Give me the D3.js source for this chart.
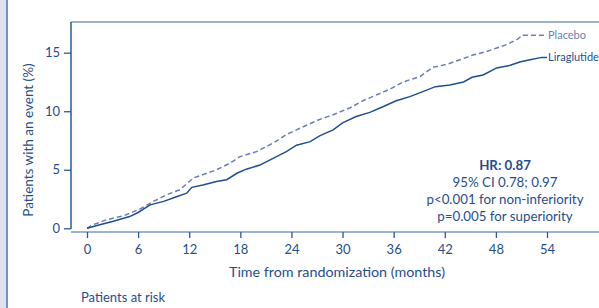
<!DOCTYPE html>
<html>
<head>
<meta charset="utf-8">
<script src="https://cdn.jsdelivr.net/npm/d3@7"></script>
<style>
  body { margin: 0; background: #fff; }
  svg text { font-family: Lato, "Noto Sans", sans-serif; fill: #1f4e8c; }
</style>
</head>
<body>
<div id="chart"></div>
<script>
const width = 599
const height = 308

// Kaplan-Meier curves (months, % with event)
const liraMonths = [0, 1.5, 3.1, 5.0, 6.0, 7.4, 9.0, 10.5, 11.7, 12.3, 13.6, 15.2, 16.4, 17.6, 18.7, 20.3, 21.9, 23.4, 24.6, 26.2, 27.3, 28.9, 30.0, 31.6, 33.2, 34.8, 36.3, 37.9, 39.5, 40.9, 42.6, 44.2, 45.2, 46.5, 48.1, 49.6, 50.8, 52.0, 53.4, 54.0]
const liraValues = [0, 0.3, 0.6, 1.0, 1.35, 2.0, 2.3, 2.7, 3.0, 3.5, 3.7, 4.0, 4.15, 4.7, 5.05, 5.4, 6.0, 6.55, 7.1, 7.4, 7.9, 8.4, 9.0, 9.55, 9.9, 10.4, 10.9, 11.25, 11.7, 12.1, 12.25, 12.5, 12.9, 13.1, 13.7, 13.9, 14.2, 14.4, 14.6, 14.6]
const placeboMonths = [0, 0.7, 2.3, 4.3, 6.2, 7.8, 9.35, 10.9, 12.5, 14.05, 15.2, 16.8, 17.9, 19.9, 21.9, 23.4, 25.0, 27.3, 28.9, 30.9, 32.4, 34.0, 35.6, 37.1, 39.1, 40.6, 42.2, 43.8, 45.3, 46.9, 48.1, 49.3, 50.4, 51.2, 54.0]
const placeboValues = [0, 0.3, 0.73, 1.07, 1.64, 2.3, 2.86, 3.3, 4.3, 4.7, 5.0, 5.57, 6.1, 6.55, 7.3, 8.0, 8.55, 9.3, 9.7, 10.3, 10.9, 11.4, 11.9, 12.5, 12.97, 13.75, 14.0, 14.4, 14.8, 15.1, 15.4, 15.7, 16.1, 16.5, 16.5]

const xTicks = [0, 6, 12, 18, 24, 30, 36, 42, 48, 54]
const yTicks = [0, 5, 10, 15]
const statLines = ["HR: 0.87", "95% CI 0.78; 0.97", "p<0.001 for non-inferiority", "p=0.005 for superiority"]

const dark = "#1d4f91"
const light = "#6a7db8"

let svg = d3.select("#chart")
            .append("svg")
            .attr("width", width)
            .attr("height", height)

// left page strip
svg.append("rect").attr("x", 0).attr("y", 0).attr("width", 6).attr("height", height).attr("fill", "#dde2ee")
svg.append("line").attr("x1", 7).attr("x2", 7).attr("y1", 0).attr("y2", height)
   .attr("stroke", "#4a6fa5").attr("stroke-width", 1.5)

let x = d3.scaleLinear().domain([0, 54]).range([87, 547])
let y = d3.scaleLinear().domain([0, 15]).range([228.3, 52.7])

// frame lines
svg.append("line").attr("x1", 71).attr("x2", width).attr("y1", 22).attr("y2", 22)
   .attr("stroke", "#7d9ac6").attr("stroke-width", 1.5)
svg.append("line").attr("x1", 71).attr("x2", 71).attr("y1", 22).attr("y2", 229)
   .attr("stroke", "#2a5a96").attr("stroke-width", 1.5)
svg.append("line").attr("x1", 71).attr("x2", width).attr("y1", 232).attr("y2", 232)
   .attr("stroke", "#7d9ac6").attr("stroke-width", 1.5)

let yAxis = svg.append("g")
   .attr("transform", "translate(71,0)")
   .call(d3.axisLeft(y).tickValues(yTicks).tickSize(7).tickPadding(4))
yAxis.select(".domain").remove()
yAxis.selectAll("line").attr("stroke", "#2a5a96").attr("stroke-width", 1.3)
yAxis.selectAll("text").attr("font-size", 13).style("font-family", "Lato, sans-serif").attr("fill", "#1f4e8c")

let xAxis = svg.append("g")
   .attr("transform", "translate(0,232)")
   .call(d3.axisBottom(x).tickValues(xTicks).tickSize(6).tickPadding(7))
xAxis.select(".domain").remove()
xAxis.selectAll("line").attr("stroke", "#2a5a96").attr("stroke-width", 1.3)
xAxis.selectAll("text").attr("font-size", 13).style("font-family", "Lato, sans-serif").attr("fill", "#1f4e8c")

// axis titles
svg.append("text").attr("x", 337).attr("y", 277).attr("text-anchor", "middle").attr("font-size", 14.3)
   .text("Time from randomization (months)")
svg.append("text").attr("transform", "translate(33,140) rotate(-90)").attr("text-anchor", "middle").attr("font-size", 13.5)
   .text("Patients with an event (%)")
svg.append("text").attr("x", 81).attr("y", 302).attr("font-size", 13).text("Patients at risk")

// curves
let line = d3.line()
   .x(d => x(d[0]))
   .y(d => y(d[1]))

svg.append("path")
   .datum(d3.zip(placeboMonths, placeboValues))
   .attr("d", line)
   .attr("fill", "none")
   .attr("stroke", light)
   .attr("stroke-width", 1.5)
   .attr("stroke-dasharray", "5,3")

svg.append("path")
   .datum(d3.zip(liraMonths, liraValues))
   .attr("d", line)
   .attr("fill", "none")
   .attr("stroke", dark)
   .attr("stroke-width", 1.5)

svg.append("text").attr("x", x(54) + 1).attr("y", y(placeboValues[placeboValues.length - 1]) + 4)
   .attr("font-size", 11).style("fill", light).text("Placebo")
svg.append("text").attr("x", x(54) + 1).attr("y", y(liraValues[liraValues.length - 1]) + 4)
   .attr("font-size", 11).style("fill", dark).text("Liraglutide")

// statistics box
svg.selectAll(".stat")
   .data(statLines)
   .enter()
   .append("text")
   .attr("class", "stat")
   .attr("x", 505)
   .attr("y", (d, i) => 170 + i * 17)
   .attr("text-anchor", "middle")
   .attr("font-size", 13.3)
   .attr("font-weight", (d, i) => i == 0 ? "bold" : "normal")
   .text(d => d)
</script>
</body>
</html>
